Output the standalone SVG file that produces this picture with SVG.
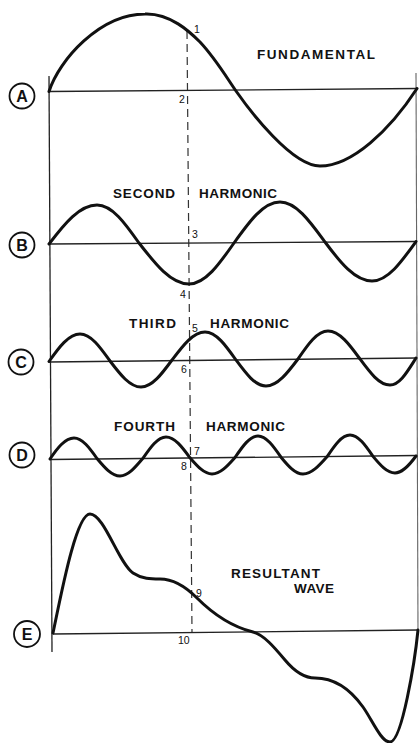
<svg xmlns="http://www.w3.org/2000/svg" width="420" height="743" viewBox="0 0 420 743">
<style>
.wave{fill:none;stroke:#111;stroke-width:3;stroke-linejoin:round;stroke-linecap:round}
.axis{fill:none;stroke:#222;stroke-width:1.3}
.frame{fill:none;stroke:#222;stroke-width:1.3}
.dash{fill:none;stroke:#333;stroke-width:1.2;stroke-dasharray:8 5}
.lbl{font-family:"Liberation Sans",Arial,sans-serif;font-weight:bold;font-size:13.5px;fill:#111}
.num{font-family:"Liberation Sans",Arial,sans-serif;font-size:10.5px;fill:#111}
.circ{fill:none;stroke:#111;stroke-width:1.8}
.cl{font-family:"Liberation Sans",Arial,sans-serif;font-weight:bold;font-size:16px;fill:#111;text-anchor:middle}
</style>
<rect width="420" height="743" fill="#fff"/>
<g id="frame">
<line class="frame" x1="49" y1="76" x2="52" y2="652"/>
<line x1="416" y1="73" x2="418" y2="632" stroke="#666" stroke-width="1.1"/>
</g>
<g id="connectors">
<line class="dash" x1="187" y1="31" x2="192" y2="633"/>
</g>
<g id="fundamental">
<line class="axis" x1="49" y1="91.5" x2="417" y2="88.5"/>
<path class="wave" d="M49,91.5 C59,60 100,14 145,14 C170,13 190,32 200,42 C215,58 225,75 236,91 C250,111 292,166 320,166 C352,166 390,130 417,88.5"/>
<text class="lbl" x="257" y="58.5" textLength="118" lengthAdjust="spacing">FUNDAMENTAL</text>
<text class="num" x="194" y="33">1</text>
<text class="num" x="179" y="103">2</text>
<circle class="circ" cx="22" cy="96" r="12.5"/>
<text class="cl" x="22" y="101.8">A</text>
</g>
<g id="second-harmonic">
<line class="axis" x1="49" y1="244" x2="417" y2="241.5"/>
<path class="wave" d="M49,244 C64.6,223.5 79.6,205 97,205 C112.2,205 125.3,223.5 139,243 C155.3,264 170.9,284 189,284 C205.3,284 219.3,264 234,243 C249,222 263.3,202 280,202 C296.3,202 310.3,222 325,242 C340.3,262.5 355,281 372,281 C387.9,281 401.7,261.5 416,241.5"/>
<text class="lbl" x="113" y="198" textLength="62" lengthAdjust="spacing">SECOND</text>
<text class="lbl" x="199" y="198" textLength="78" lengthAdjust="spacing">HARMONIC</text>
<text class="num" x="192" y="238">3</text>
<text class="num" x="180" y="298">4</text>
<circle class="circ" cx="22" cy="245" r="12.5"/>
<text class="cl" x="22" y="250.8">B</text>
</g>
<g id="third-harmonic">
<line class="axis" x1="49" y1="362" x2="417" y2="358"/>
<path class="wave" d="M49,361.5 C59.1,347.2 68.8,334 80,334 C90.9,334 100.2,347.2 110,361 C120.1,374.3 129.8,387 141,387 C152.2,387 161.9,373.8 172,360 C182.8,345.7 193.1,332 205,332 C216.2,332 225.9,345.7 236,360 C245.8,373.3 255.1,386 266,386 C277.6,386 287.6,372.8 298,359 C307.8,344.7 317.1,331 328,331 C339.6,331 349.6,344.7 360,359 C369.8,372.3 379.1,385 390,385 C399.8,385 407.2,371.8 416,358"/>
<text class="lbl" x="129" y="328" textLength="47" lengthAdjust="spacing">THIRD</text>
<text class="lbl" x="210" y="328" textLength="79" lengthAdjust="spacing">HARMONIC</text>
<text class="num" x="192" y="332">5</text>
<text class="num" x="181" y="373">6</text>
<circle class="circ" cx="21" cy="362" r="12.5"/>
<text class="cl" x="21" y="367.8">C</text>
</g>
<g id="fourth-harmonic">
<line class="axis" x1="50" y1="459.5" x2="417" y2="455.5"/>
<path class="wave" d="M50,459 C57.2,448.2 65,438 74,438 C82.3,438 89.5,448 97,458.5 C104.5,467.5 111.7,476 120,476 C128.3,476 135.5,467 143,458.2 C150.5,447.4 157.7,437 166,437 C174.7,437 182.2,447.2 190,457.8 C197.2,466 204,474 212,474 C220.3,474 227.5,466 235,457.5 C242.5,446.5 249.7,436 258,436 C266.3,436 273.5,446.3 281,457.2 C288.2,465.9 295,474 303,474 C311.7,474 319.2,465.6 327,456.8 C334.5,445.5 341.7,435 350,435 C358.3,435 365.5,445.4 373,456.4 C380.2,465 387,473 395,473 C402.6,473 409.5,465 416,456"/>
<text class="lbl" x="114" y="431" textLength="61" lengthAdjust="spacing">FOURTH</text>
<text class="lbl" x="206" y="431" textLength="79" lengthAdjust="spacing">HARMONIC</text>
<text class="num" x="194" y="455">7</text>
<text class="num" x="181" y="470">8</text>
<circle class="circ" cx="22" cy="455" r="12.5"/>
<text class="cl" x="22" y="460.8">D</text>
</g>
<g id="resultant-wave">
<line class="axis" x1="53" y1="634" x2="418" y2="630"/>
<path class="wave" d="M53,633 C61,595 76,514 90,514 C104,514 118.7,563.4 133,573 C142,579 151,579 160,579 C172.3,579 184.7,585.7 197,598 C215.7,616.7 234.3,627.3 253,632 C263.7,634.7 274.3,647.2 285,660 C295,672 305,678 315,678 C331,678 347,684.6 363,707 C372,719.6 381,742 390,742 C402,742 415,660 418,630"/>
<text class="lbl" x="231" y="578" textLength="89" lengthAdjust="spacing">RESULTANT</text>
<text class="lbl" x="294" y="593" textLength="40" lengthAdjust="spacing">WAVE</text>
<text class="num" x="196" y="597">9</text>
<text class="num" x="178" y="644">10</text>
<circle class="circ" cx="27" cy="634" r="13"/>
<text class="cl" x="27" y="639.8">E</text>
</g>
</svg>
